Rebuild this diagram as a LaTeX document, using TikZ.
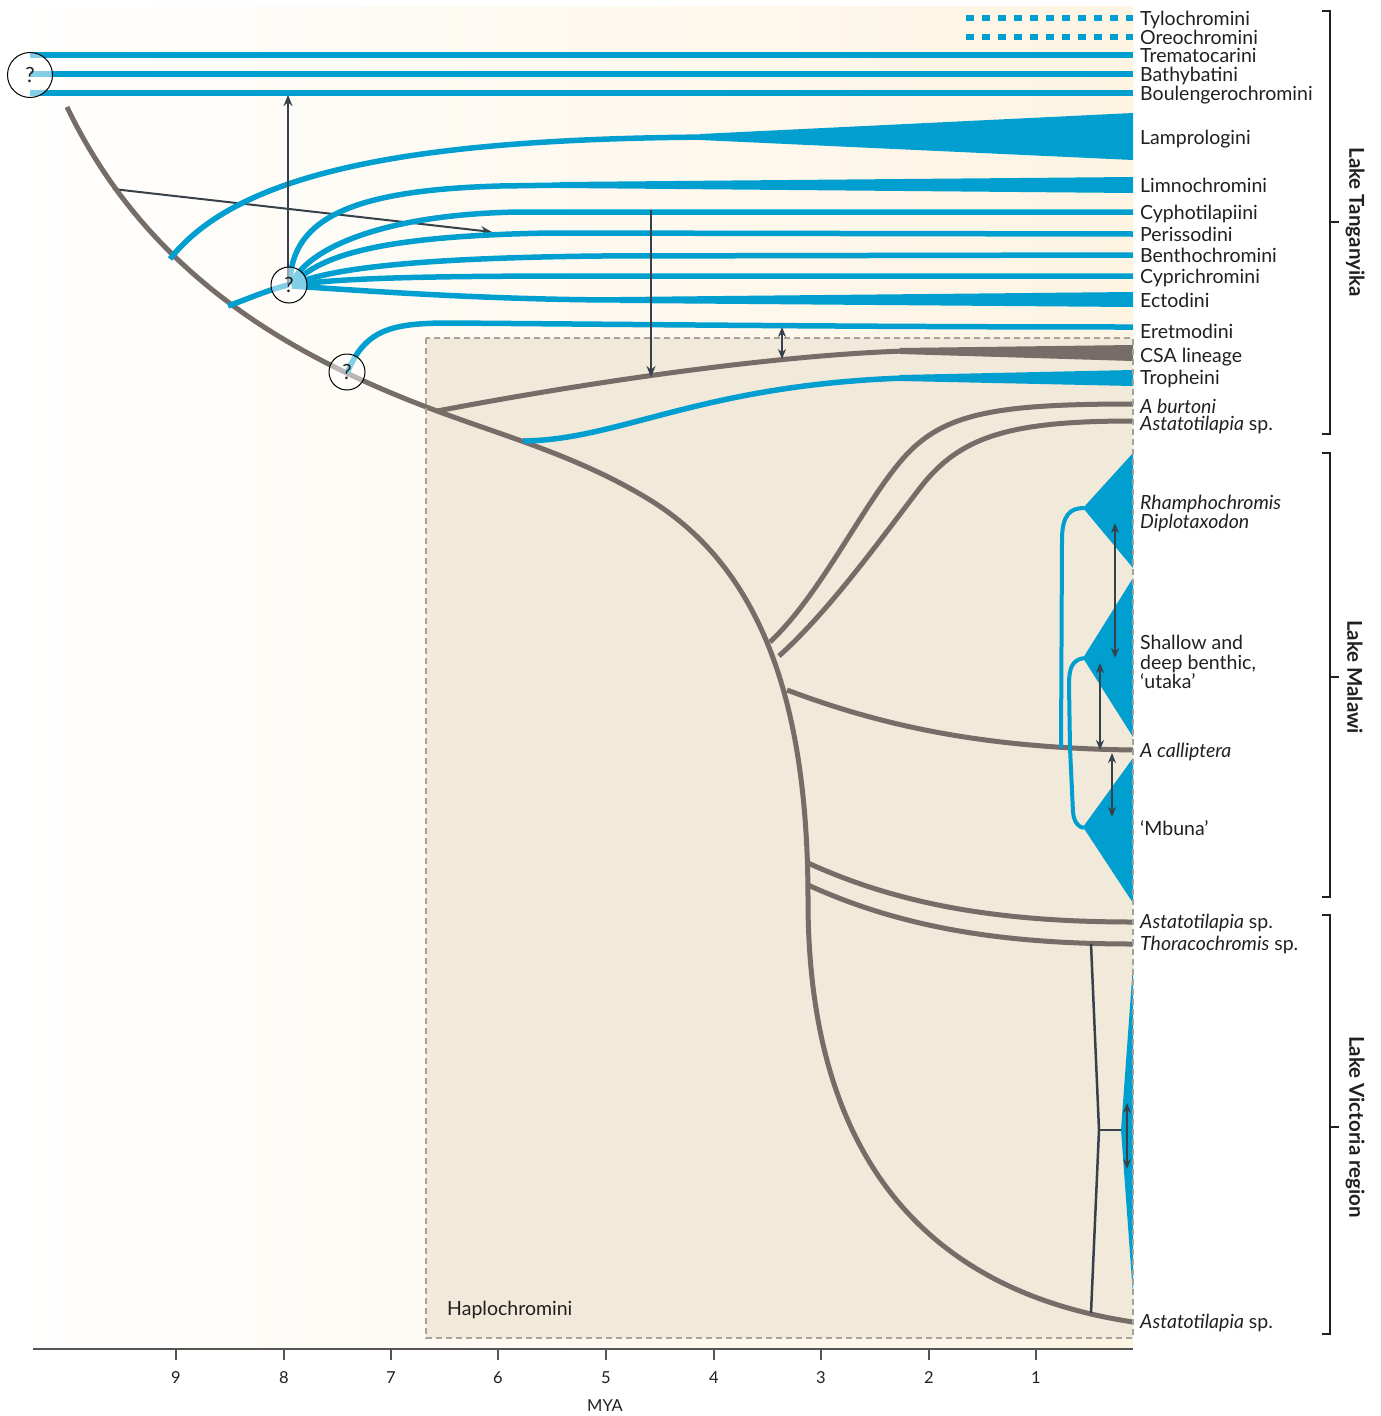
\documentclass[tikz,border=0pt]{standalone}
\usepackage{fontspec}
\setmainfont{Lato}
\usetikzlibrary{arrows.meta}
\definecolor{cblue}{RGB}{0,159,208}
\definecolor{cgrey}{RGB}{118,108,104}
\definecolor{darkarr}{RGB}{55,65,73}
\definecolor{cream}{RGB}{253,244,226}
\definecolor{haplo}{RGB}{241,233,218}
\definecolor{boxline}{RGB}{168,162,155}
\definecolor{txt}{RGB}{35,31,32}
\definecolor{axisc}{RGB}{85,85,85}
\tikzset{
  lab/.style={anchor=base west, inner sep=0pt, text=txt, font=\fontsize{19.5}{22}\selectfont},
  lakelab/.style={rotate=-90, inner sep=0pt, text=txt, font=\fontsize{20.5}{22}\selectfont\bfseries},
  ticklab/.style={inner sep=0pt, text=txt, font=\fontsize{16.5}{18}\selectfont},
  tribe/.style={draw=cblue, line width=5.5pt},
  thin tribe/.style={draw=cblue, line width=4pt},
  hbranch/.style={draw=cgrey, line width=5pt},
  mig/.style={draw=darkarr, line width=2pt, -{Stealth[length=11pt,width=9pt]}},
  migboth/.style={draw=darkarr, line width=2pt, {Stealth[length=10pt,width=8pt]}-{Stealth[length=10pt,width=8pt]}},
  qnode/.style={circle, draw=black, line width=1pt, fill=white, fill opacity=0.5, text opacity=1, inner sep=0pt, text=txt, font=\fontsize{21}{21}\selectfont},
  bracket/.style={draw=txt, line width=1.3pt},
}
\begin{document}
\begin{tikzpicture}[x=1pt,y=-1pt]
\useasboundingbox (0,0) rectangle (1381,1416);

% time-scale backdrop and the Haplochromini panel
\shade[left color=white, right color=cream] (0,6) rectangle (1133,1349);
\fill[haplo] (426,338) rectangle (1133,1338);

% branch points on the haplochromine backbone
\coordinate (bStart) at (67,107);
\coordinate (bArrow) at (113,189);
\coordinate (bLamp) at (170,259);
\coordinate (bNode) at (228,306);
\coordinate (bCSA) at (437,411);
\coordinate (bTroph) at (523,441);
\coordinate (bMid) at (650,500);
\coordinate (bBurt) at (770,642);
\coordinate (bAsta) at (779,656);
\coordinate (bCall) at (787,690);
\coordinate (bDeep) at (808,900);
\coordinate (bVic1) at (808,863);
\coordinate (bVic2) at (808,885);
\coordinate (bEnd) at (1133,1322);

% introgression arrow from the backbone into the Tanganyika radiation
\coordinate (arrEnd) at (492,232);
\draw[mig] (bArrow) -- (arrEnd);

% backbone
\draw[hbranch] (bStart) .. controls (150,280) and (300,360) .. (bCSA)
  .. controls (507,437) and (580,457) .. (bMid)
  .. controls (760,568) and (808,700) .. (bDeep)
  .. controls (808,1150) and (920,1290) .. (bEnd);

% CSA lineage
\coordinate (csaW) at (905,351);
\draw[hbranch] (bCSA) .. controls (600,380) and (780,355) .. (csaW);
\fill[cgrey] (900,348) -- (1133,345) -- (1133,361) -- (900,354) -- cycle;

% Haplochromini tips
\draw[hbranch] (bBurt) .. controls (820,595) and (860,510) .. (900,462)
  .. controls (940,414) and (990,404) .. (1133,404);
\draw[hbranch] (bAsta) .. controls (830,610) and (880,540) .. (920,488)
  .. controls (960,436) and (1010,421) .. (1133,421);
\draw[hbranch] (bCall) .. controls (880,725) and (980,748) .. (1133,750);
\draw[hbranch] (bVic1) .. controls (900,905) and (1000,922) .. (1133,922);
\draw[hbranch] (bVic2) .. controls (900,927) and (1000,944) .. (1133,944);

% Tropheini
\coordinate (tropW) at (905,378);
\draw[tribe] (bTroph) .. controls (620,440) and (700,385) .. (tropW);
\fill[cblue] (900,375) -- (1133,370) -- (1133,386) -- (900,381) -- cycle;

% basal lineages
\draw[tribe, dash pattern=on 8pt off 8pt] (966,18) -- (1133,18);
\draw[tribe, dash pattern=on 8pt off 8pt] (966,37) -- (1133,37);
\draw[tribe] (30,55) -- (1133,55);
\draw[tribe] (30,74) -- (1133,74);
\draw[tribe] (30,93) -- (1133,93);

% Lamprologini
\draw[tribe] (bLamp) .. controls (240,170) and (420,138) .. (720,137);
\fill[cblue] (700,134) -- (1133,113) -- (1133,160) -- (700,140) -- cycle;

% Tanganyika radiation from the unresolved node
\coordinate (nodeC) at (288,285);
\draw[tribe] (bNode) .. controls (250,298) and (268,290) .. (nodeC);
\draw[tribe] (290,285) .. controls (290,215) and (360,190) .. (500,186) -- (570,185);
\fill[cblue] (560,182) -- (1133,177) -- (1133,193) -- (560,188) -- cycle;
\draw[tribe] (291,285) .. controls (305,250) and (380,214) .. (520,212) -- (1133,212);
\draw[tribe] (292,285) .. controls (320,255) and (380,236) .. (550,233) -- (1133,234);
\draw[tribe] (292,285) .. controls (330,268) and (420,258) .. (600,256) -- (1133,255);
\draw[tribe] (292,285) .. controls (350,277) and (450,276) .. (600,276) -- (1133,276);
\draw[tribe] (292,286) .. controls (380,292) and (500,300) .. (625,300);
\fill[cblue] (620,297) -- (1133,292) -- (1133,307) -- (620,303) -- cycle;

% Eretmodini
\draw[tribe] (347,373) .. controls (365,330) and (390,323) .. (450,323)
  .. controls (700,325) and (900,327) .. (1133,327);

% Lake Malawi radiation
\fill[cblue] (1083,508) -- (1133,453) -- (1133,568) -- cycle;
\fill[cblue] (1083,658) -- (1133,578) -- (1133,737) -- cycle;
\fill[cblue] (1083,827) -- (1133,758) -- (1133,903) -- cycle;
\draw[thin tribe] (1061,748) -- (1062,540) .. controls (1062,515) and (1070,508) .. (1084,508);
\draw[thin tribe] (1084,658) .. controls (1072,660) and (1069,668) .. (1069,685)
  -- (1070,748) -- (1073,812) .. controls (1074,822) and (1078,827) .. (1084,828);
\draw[migboth] (1115,523) -- (1115,658);
\draw[migboth] (1100,663) -- (1100,750);
\draw[migboth] (1112,753) -- (1112,817);

% Lake Victoria region radiation
\fill[cblue] (1133,965) -- (1121,1130) -- (1133,1295) -- cycle;
\coordinate (vTop) at (1091,944);
\coordinate (vMid) at (1099,1130);
\coordinate (vBot) at (1091,1313);
\coordinate (vTip) at (1121,1130);
\draw[darkarr, line width=2.5pt] (vTop) -- (vMid) -- (vBot);
\draw[darkarr, line width=2.5pt] (vMid) -- (vTip);
\draw[migboth] (1127,1103) -- (1127,1169);

% gene flow arrows in Lake Tanganyika
\coordinate (upTip) at (288,95);
\draw[mig] (nodeC) -- (upTip);
\coordinate (downTop) at (651,210);
\coordinate (downTip) at (651,377);
\draw[mig] (downTop) -- (downTip);
\draw[migboth] (782,327) -- (782,359);

% unresolved nodes
\node[qnode, minimum size=45pt] (q1) at (30,75) {?};
\node[qnode, minimum size=36pt] (q2) at (289,285) {?};
\node[qnode, minimum size=36pt] (q3) at (347,372) {?};

% Haplochromini panel outline
\draw[boxline, line width=1.5pt, dash pattern=on 6pt off 4pt] (426,338) rectangle (1133,1338);
\node[lab] (haplo) at (447,1315) {Haplochromini};

% tip labels
\node[lab] (tylo) at (1140,25) {Tylochromini};
\node[lab] (oreo) at (1140,44) {Oreochromini};
\node[lab] (trem) at (1140,62) {Trematocarini};
\node[lab] (bath) at (1140,81) {Bathybatini};
\node[lab] (boul) at (1140,100) {Boulengerochromini};
\node[lab] (lamp) at (1140,144) {Lamprologini};
\node[lab] (limn) at (1140,192) {Limnochromini};
\node[lab] (cyph) at (1140,219) {Cyphotilapiini};
\node[lab] (peri) at (1140,241) {Perissodini};
\node[lab] (bent) at (1140,262) {Benthochromini};
\node[lab] (cypr) at (1140,283) {Cyprichromini};
\node[lab] (ecto) at (1140,307) {Ectodini};
\node[lab] (eret) at (1140,338) {Eretmodini};
\node[lab] (csa) at (1140,362) {CSA lineage};
\node[lab] (trop) at (1140,384) {Tropheini};
\node[lab] (burt) at (1140,413) {\itshape A burtoni};
\node[lab] (asta1) at (1140,430) {\itshape Astatotilapia\/\upshape\ sp.};
\node[lab] (rham) at (1140,509) {\itshape Rhamphochromis};
\node[lab] (dipl) at (1140,528) {\itshape Diplotaxodon};
\node[lab] (shal1) at (1140,649) {Shallow and};
\node[lab] (shal2) at (1140,669) {deep benthic,};
\node[lab] (shal3) at (1140,688) {‘utaka’};
\node[lab] (call) at (1140,757) {\itshape A calliptera};
\node[lab] (mbun) at (1140,835) {‘Mbuna’};
\node[lab] (asta2) at (1140,928) {\itshape Astatotilapia\/\upshape\ sp.};
\node[lab] (thor) at (1140,950) {\itshape Thoracochromis\/\upshape\ sp.};
\node[lab] (asta3) at (1140,1328) {\itshape Astatotilapia\/\upshape\ sp.};

% lake brackets
\draw[bracket] (1322,11) -- (1330,11) -- (1330,434) -- (1322,434);
\draw[bracket] (1330,222) -- (1339,222);
\draw[bracket] (1322,453) -- (1330,453) -- (1330,897) -- (1322,897);
\draw[bracket] (1330,677) -- (1339,677);
\draw[bracket] (1322,915) -- (1330,915) -- (1330,1334) -- (1322,1334);
\draw[bracket] (1330,1127) -- (1339,1127);
\node[lakelab] (tang) at (1355,222) {Lake Tanganyika};
\node[lakelab] (mala) at (1355,677) {Lake Malawi};
\node[lakelab] (vict) at (1355,1127) {Lake Victoria region};

% time axis
\draw[axisc, line width=1.5pt] (33,1349) -- (1133,1349);
\foreach \v/\xx in {9/176, 8/284, 7/391, 6/498, 5/606, 4/714, 3/821, 2/929, 1/1036} {
  \draw[axisc, line width=1.2pt] (\xx,1349) -- (\xx,1360);
  \node[ticklab] (t\v) at (\xx,1378) {\v};
}
\node[ticklab] (mya) at (605,1406) {MYA};
\end{tikzpicture}
\end{document}
